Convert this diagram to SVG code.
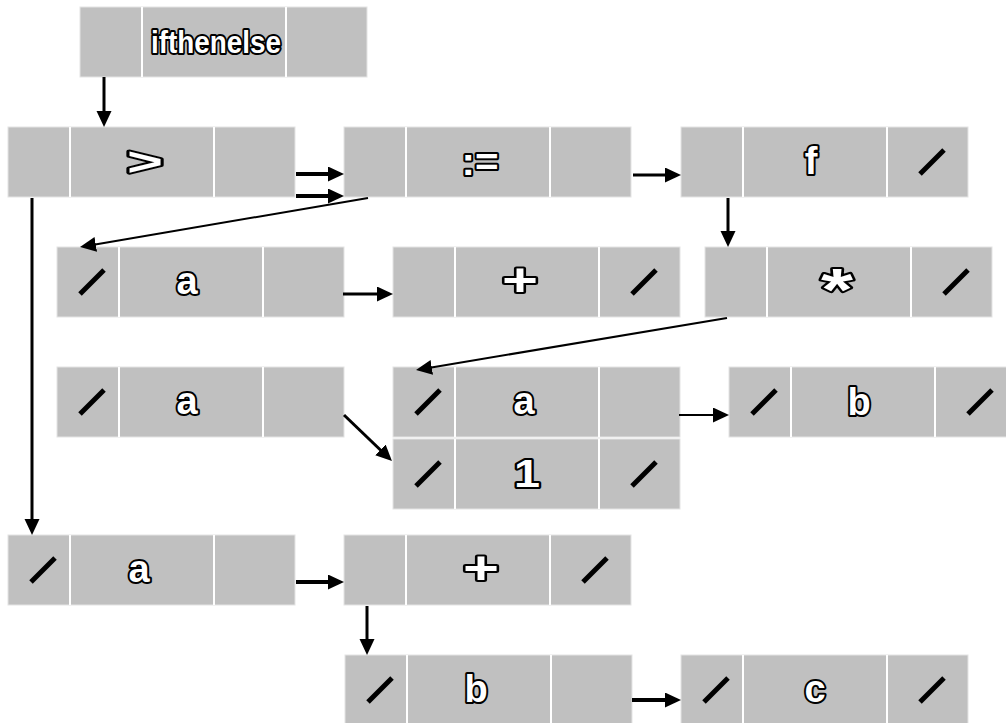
<svg xmlns="http://www.w3.org/2000/svg" xmlns:xlink="http://www.w3.org/1999/xlink" width="1006" height="723" viewBox="0 0 1006 723">
  <style>
    .frame { fill: #c0c0c0; stroke: #e4e4e4; stroke-width: 1; }
    .div { stroke: #ffffff; stroke-width: 2; }
    .nil { stroke: #000; stroke-width: 5; fill: none; }
    .lbl { font-family: "Liberation Sans", Arial, sans-serif; font-weight: bold; font-size: 38px; fill: #fff; stroke: #000; stroke-width: 4; paint-order: stroke fill; stroke-linejoin: round; text-anchor: middle; }
    .edge { stroke: #000; fill: none; }
    .w2 { stroke-width: 2; }
    .w3 { stroke-width: 3; }
    .w4 { stroke-width: 4; }
  </style>
  <defs>
    <marker id="head" markerUnits="userSpaceOnUse" markerWidth="17" markerHeight="16" refX="8" refY="7.5" orient="auto">
      <path d="M0,0 L16,7.5 L0,15 Z" fill="#000"/>
    </marker>
    <!-- three-cell record frame: link | value | link -->
    <g id="cell3">
      <rect class="frame" x="0" y="0" width="287" height="70"/>
      <line class="div" x1="62" y1="0" x2="62" y2="70"/>
      <line class="div" x1="206" y1="0" x2="206" y2="70"/>
    </g>
    <path id="nilL" class="nil" d="M23,47 L47,23"/>
    <path id="nilR" class="nil" d="M239,47 L263,23"/>
  </defs>

  <g id="n-ifthenelse" transform="translate(80,7)">
    <use xlink:href="#cell3"/>
    <text class="lbl" x="136" y="46" style="font-size:31px" textLength="130" lengthAdjust="spacingAndGlyphs">ifthenelse</text>
  </g>

  <g id="n-gt" transform="translate(8,127)">
    <use xlink:href="#cell3"/>
    <text class="lbl" x="137" y="48" textLength="36" lengthAdjust="spacingAndGlyphs">&gt;</text>
  </g>

  <g id="n-assign" transform="translate(344,127)">
    <use xlink:href="#cell3"/>
    <text class="lbl" x="136" y="48" textLength="37" lengthAdjust="spacingAndGlyphs">:=</text>
  </g>

  <g id="n-f" transform="translate(681,127)">
    <use xlink:href="#cell3"/>
    <text class="lbl" x="130" y="47">f</text>
    <use xlink:href="#nilR"/>
  </g>

  <g id="n-a1" transform="translate(57,247)">
    <use xlink:href="#cell3"/>
    <text class="lbl" x="130" y="47">a</text>
    <use xlink:href="#nilL"/>
  </g>

  <g id="n-plus1" transform="translate(393,247)">
    <use xlink:href="#cell3"/>
    <text class="lbl" x="127" y="49" style="font-size:46px" textLength="36" lengthAdjust="spacingAndGlyphs">+</text>
    <use xlink:href="#nilR"/>
  </g>

  <g id="n-mul" transform="translate(705,247)">
    <use xlink:href="#cell3"/>
    <text class="lbl" x="132" y="63" style="font-size:60px" textLength="32" lengthAdjust="spacingAndGlyphs">*</text>
    <use xlink:href="#nilR"/>
  </g>

  <g id="n-a2" transform="translate(57,367)">
    <use xlink:href="#cell3"/>
    <text class="lbl" x="130" y="47">a</text>
    <use xlink:href="#nilL"/>
  </g>

  <g id="n-a3" transform="translate(393,367)">
    <use xlink:href="#cell3"/>
    <text class="lbl" x="131" y="47">a</text>
    <use xlink:href="#nilL"/>
  </g>

  <g id="n-one" transform="translate(393,439)">
    <use xlink:href="#cell3"/>
    <text class="lbl" x="134" y="48" textLength="26" lengthAdjust="spacingAndGlyphs">1</text>
    <use xlink:href="#nilL"/>
    <use xlink:href="#nilR"/>
  </g>

  <g id="n-b1" transform="translate(729,367)">
    <use xlink:href="#cell3"/>
    <text class="lbl" x="130" y="48">b</text>
    <use xlink:href="#nilL"/>
    <use xlink:href="#nilR"/>
  </g>

  <g id="n-a4" transform="translate(8,535)">
    <use xlink:href="#cell3"/>
    <text class="lbl" x="131" y="47">a</text>
    <use xlink:href="#nilL"/>
  </g>

  <g id="n-plus2" transform="translate(344,535)">
    <use xlink:href="#cell3"/>
    <text class="lbl" x="137" y="49" style="font-size:46px" textLength="36" lengthAdjust="spacingAndGlyphs">+</text>
    <use xlink:href="#nilR"/>
  </g>

  <g id="n-b2" transform="translate(345,655)">
    <use xlink:href="#cell3"/>
    <text class="lbl" x="131" y="47">b</text>
    <use xlink:href="#nilL"/>
  </g>

  <g id="n-c" transform="translate(681,655)">
    <use xlink:href="#cell3"/>
    <text class="lbl" x="134" y="47">c</text>
    <use xlink:href="#nilL"/>
    <use xlink:href="#nilR"/>
  </g>

  <g id="connectors">
    <line class="edge w3" x1="104" y1="77" x2="104" y2="119" marker-end="url(#head)"/>
    <line class="edge w4" x1="296" y1="174" x2="336" y2="174" marker-end="url(#head)"/>
    <line class="edge w4" x1="296" y1="196" x2="336" y2="196" marker-end="url(#head)"/>
    <line class="edge w2" x1="368" y1="198" x2="87.9" y2="245.7" marker-end="url(#head)"/>
    <line class="edge w3" x1="32" y1="198" x2="32" y2="527" marker-end="url(#head)"/>
    <line class="edge w3" x1="633" y1="175" x2="673" y2="175" marker-end="url(#head)"/>
    <line class="edge w3" x1="728" y1="198" x2="728" y2="239" marker-end="url(#head)"/>
    <line class="edge w3" x1="343" y1="294" x2="385" y2="294" marker-end="url(#head)"/>
    <line class="edge w2" x1="727" y1="318" x2="423.9" y2="368.7" marker-end="url(#head)"/>
    <line class="edge w3" x1="344" y1="415" x2="386.2" y2="455.5" marker-end="url(#head)"/>
    <line class="edge w2" x1="679" y1="415" x2="721" y2="415" marker-end="url(#head)"/>
    <line class="edge w4" x1="296" y1="582" x2="336" y2="582" marker-end="url(#head)"/>
    <line class="edge w3" x1="367" y1="606" x2="367" y2="647" marker-end="url(#head)"/>
    <line class="edge w4" x1="632" y1="700" x2="673" y2="700" marker-end="url(#head)"/>
  </g>
</svg>
